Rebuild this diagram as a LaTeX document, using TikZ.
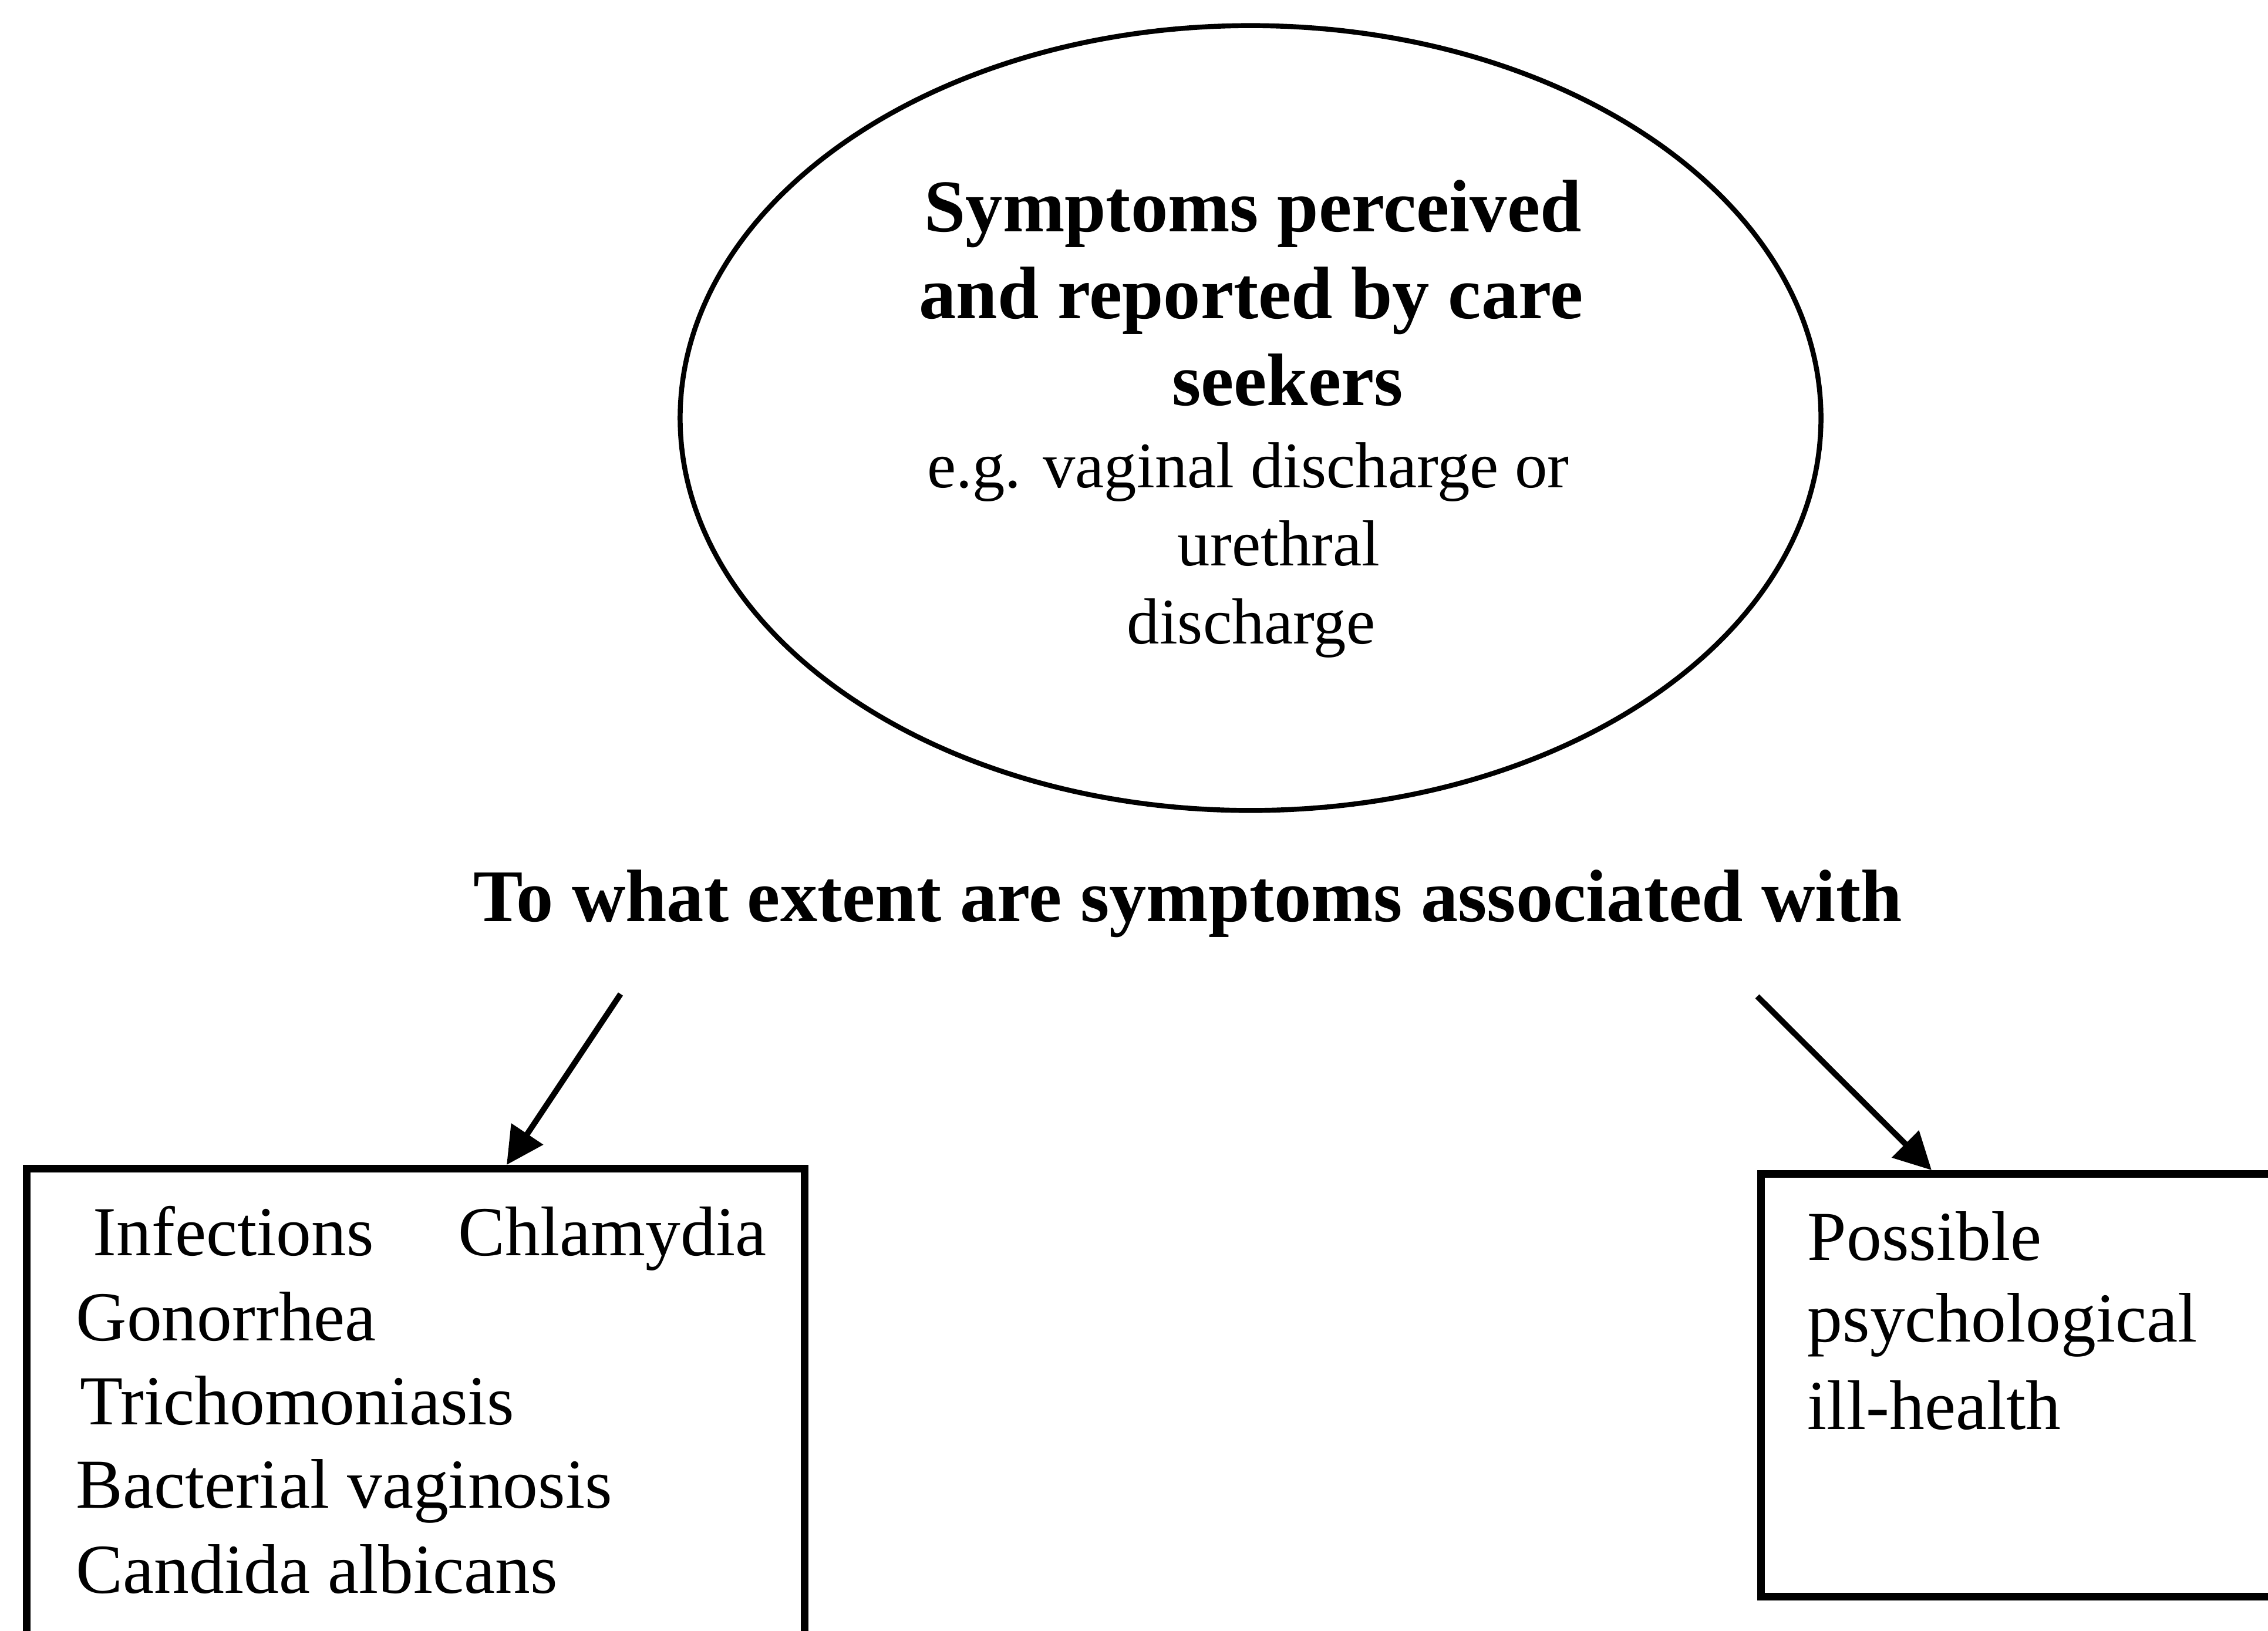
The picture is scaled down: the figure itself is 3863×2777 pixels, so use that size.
\documentclass[tikz,border=0pt]{standalone}
\usepackage{fontspec}
\setmainfont{Liberation Serif}
\usetikzlibrary{arrows.meta,shapes.geometric}
\begin{document}
\begin{tikzpicture}[x=0.01cm,y=-0.01cm,
  boxline/.style={draw, rectangle, line width=3.7pt, inner sep=0pt, anchor=north west},
  conn/.style={line width=2.8pt, -{Triangle[length=18pt,width=18pt]}},
  big/.style={font=\fontsize{36}{42}\selectfont\bfseries, inner sep=0pt, anchor=base},
  small/.style={font=\fontsize{31.5}{38}\selectfont, inner sep=0pt, anchor=base},
  item/.style={font=\fontsize{34}{40}\selectfont, inner sep=0pt, anchor=base west}]
\useasboundingbox (0,0) rectangle (3863,2777);
\clip (0,0) rectangle (3863,2777);
% ellipse
\node[ellipse, draw, line width=2.4pt, minimum width=19.42cm, minimum height=13.36cm, inner sep=0pt] (ell) at (2130,712) {};
\node[big] (e1) at (2134,394) {Symptoms perceived};
\node[big] (e2) at (2131,542) {and reported by care};
\node[big] (e3) at (2193,690) {seekers};
\node[small] (e4) at (2126,830) {e.g. vaginal discharge or};
\node[small] (e5) at (2178,963) {urethral};
\node[small] (e6) at (2131,1096) {discharge};
% title
\node[big] (title) at (2023,1569) {To what extent are symptoms associated with};
% boxes
\node[boxline, minimum width=13.24cm, minimum height=9cm] (lbox) at (39,1984) {};
\node[boxline, minimum width=9.2cm, minimum height=7.2cm] (rbox) at (2993,1993) {};
% arrows
\coordinate (la) at (1057,1693);
\coordinate (lt) at (863,1984);
\coordinate (ra) at (2993,1697);
\coordinate (rt) at (3290,1993);
\draw[conn] (la) -- (lt);
\draw[conn] (ra) -- (rt);
% left box text
\node[item] (l1) at (158,2138) {Infections};
\node[item] (l1b) at (780,2138) {Chlamydia};
\node[item] (l2) at (129,2283) {Gonorrhea};
\node[item] (l3) at (136,2426) {Trichomoniasis};
\node[item] (l4) at (129,2568) {Bacterial vaginosis};
\node[item] (l5) at (129,2713) {Candida albicans};
% right box text
\node[item] (r1) at (3078,2146) {Possible};
\node[item] (r2) at (3078,2285) {psychological};
\node[item] (r3) at (3078,2434) {ill-health};
\end{tikzpicture}
\end{document}
